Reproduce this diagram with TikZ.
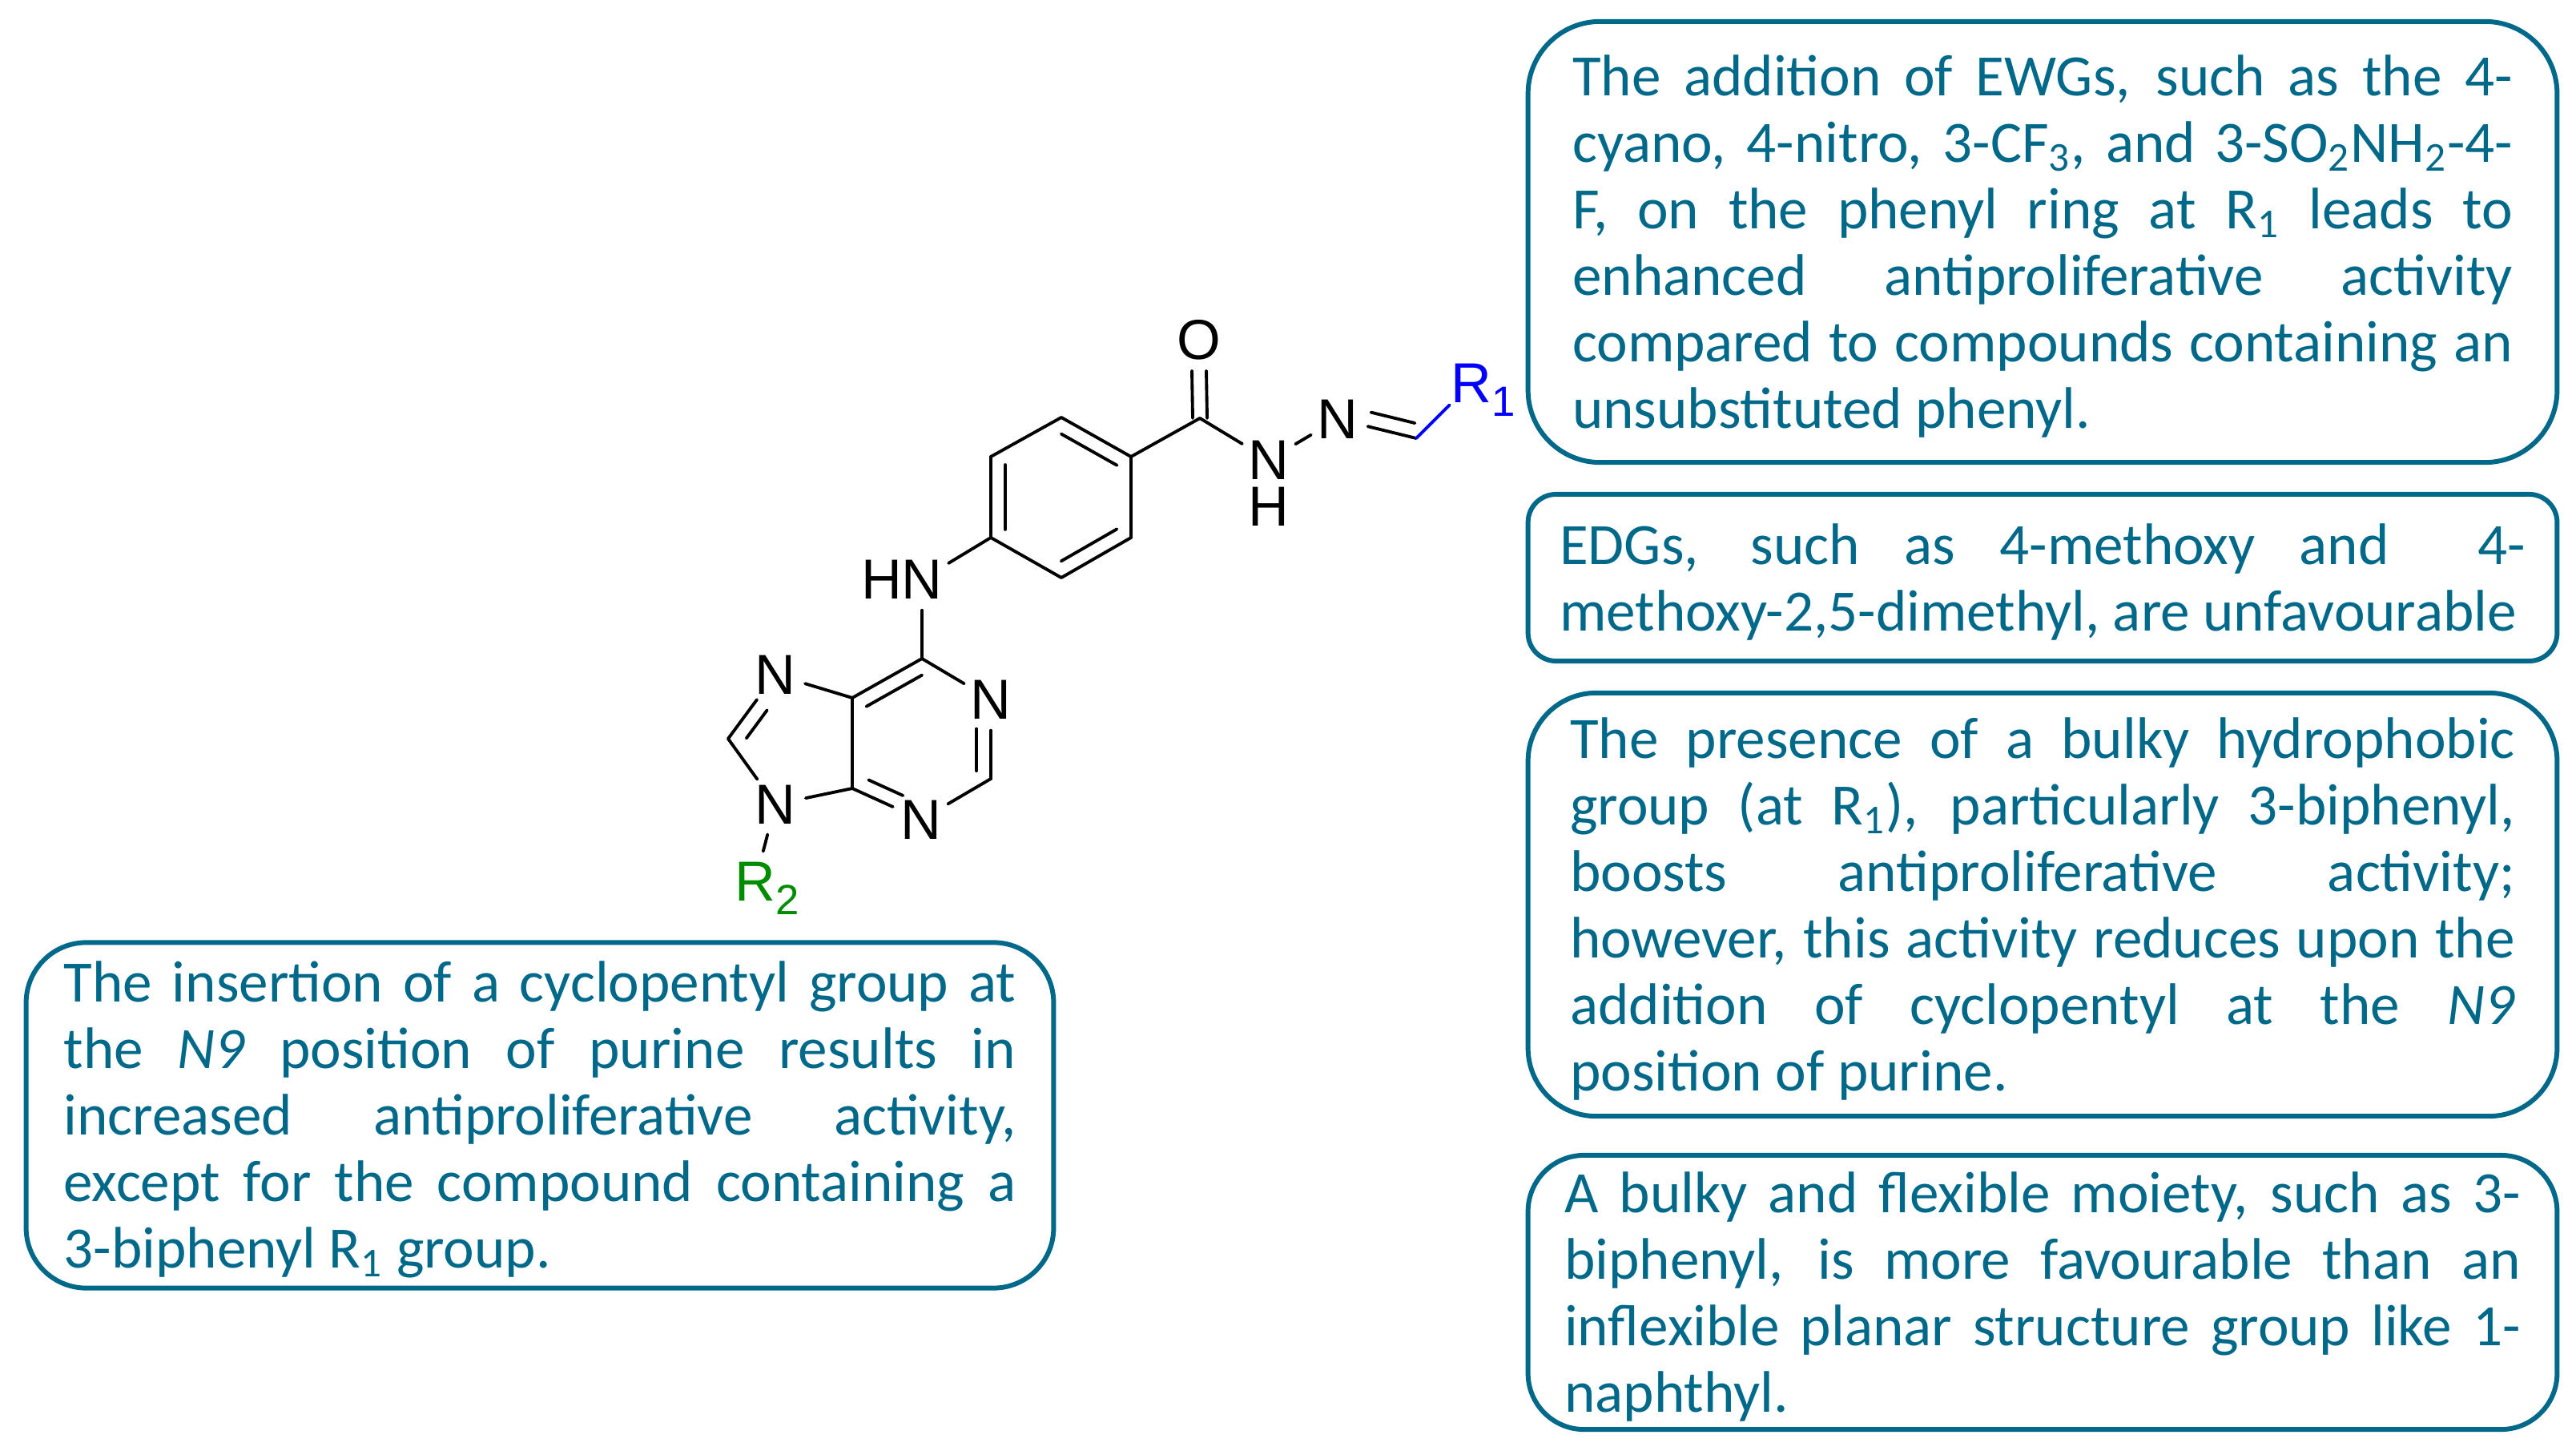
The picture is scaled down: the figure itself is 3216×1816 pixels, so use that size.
\documentclass[tikz,border=0pt]{standalone}
\usepackage{fontspec}
\setmainfont{Carlito}
\newfontfamily\atomfont{Liberation Sans}
\usetikzlibrary{calc}
\definecolor{noteteal}{HTML}{00698A}
\definecolor{rblue}{HTML}{0000FF}
\definecolor{rgreen}{HTML}{008C00}
\newcommand{\rsub}[1]{\rlap{\smash{\raisebox{-0.17cm}{\fontsize{15}{15}\selectfont #1}}}}
\hyphenpenalty=10000
\exhyphenpenalty=10000
\tolerance=9999
\hbadness=10000
\tikzset{
    atom/.style={circle, inner sep=0pt, minimum size=0.76cm, font=\atomfont\fontsize{20}{22}\selectfont},
    hatom/.style={inner sep=0pt, font=\atomfont\fontsize{20}{22}\selectfont},
    bond/.style={line width=1.1pt, line cap=round},
    notebox/.style={draw=noteteal, line width=1.7pt, text=noteteal, inner sep=0pt, align=justify,
        font=\fontsize{20.8}{23.6}\selectfont, execute at begin node=\rule{0pt}{17.4pt}}
}
\begin{document}
\begin{tikzpicture}[x=0.01cm, y=-0.01cm]
    \useasboundingbox (0,0) rectangle (3216,1816);

    % Phenyl ring and hydrazone arm
    \coordinate (ra) at (1325,521);
    \coordinate (rb) at (1412,570);
    \coordinate (rc) at (1412,671);
    \coordinate (rd) at (1325,721);
    \coordinate (re) at (1237,671);
    \coordinate (rf) at (1237,570);
    \coordinate (cco) at (1498,522);
    \coordinate (cim) at (1768,547);
    \node[atom] (oxy) at (1497,424) {O};
    \node[atom] (nha) at (1584,574) {N};
    \node[hatom] (hha) at (1584,632) {H};
    \node[atom] (nim) at (1670,523) {N};
    \node[atom, text=rblue] (rone) at (1837,478) {R\rsub{1}};

    % Purine
    \node[atom] (nhb) at (1151,723) {N};
    \node[hatom] (hhb) at (1101,723) {H};
    \coordinate (csix) at (1151,822);
    \coordinate (cfive) at (1064,871);
    \coordinate (cfour) at (1064,984);
    \coordinate (ctwo) at (1237,972);
    \coordinate (ceight) at (909,922);
    \node[atom] (none) at (1237,873) {N};
    \node[atom] (nthree) at (1150,1023) {N};
    \node[atom] (nseven) at (968,842) {N};
    \node[atom] (nnine) at (968,1004) {N};
    \node[atom, text=rgreen] (rtwo) at (943,1100) {R\rsub{2}};

    % Single bonds and outer lines
    \foreach \a/\b in {ra/rb, rb/rc, rc/rd, rd/re, re/rf, rf/ra, rb/cco, cco/nha, nha/nim, nim/cim,
        re/nhb, nhb/csix, csix/cfive, csix/none, none/ctwo, ctwo/nthree, nthree/cfour, cfour/cfive,
        cfive/nseven, nseven/ceight, ceight/nnine, nnine/cfour, nnine/rtwo} {
        \draw[bond] (\a) -- (\b);
    }
    \draw[bond, rblue] (cim) -- (rone);
    \foreach \s in {-9,9} {
        \draw[bond] ($(cco)+(\s,0)$) -- ($(oxy.south)+(\s,0)$);
    }

    % Inner lines of the double bonds
    \foreach \a/\b/\m/\n/\r in {ra/rb/.1/.9/-90, rd/rc/.1/.9/90, rf/re/.1/.9/90, csix/cfive/.1/.9/90,
        none/ctwo/.37/.9/-90, cfour/nthree/.15/.65/90, ceight/nseven/.14/.58/-90, nim/cim/.38/.94/90} {
        \draw[bond] ($(\a)!\m!(\b)!0.18cm!\r:(\b)$) -- ($(\a)!\n!(\b)!0.18cm!\r:(\b)$);
    }

    % Notes
    \node[notebox, minimum width=12.84cm, minimum height=5.5cm, text width=11.73cm, rounded corners=0.9cm] (ewgnote) at (2550,302)
        {The addition of EWGs, such as the 4-\linebreak
        cyano, 4-nitro, 3-CF\textsubscript{3}, and 3-SO\textsubscript{2}NH\textsubscript{2}-4-\linebreak
        F, on the phenyl ring at R\textsubscript{1} leads to\linebreak
        enhanced antiproliferative activity\linebreak
        compared to compounds containing an\linebreak
        unsubstituted phenyl.};
    \node[notebox, minimum width=12.84cm, minimum height=2.08cm, text width=12.05cm, rounded corners=0.35cm] (edgnote) at (2550,721)
        {EDGs, such as 4-methoxy and \ 4-\linebreak
        methoxy-2,5-dimethyl, are unfavourable};
    \node[notebox, minimum width=12.84cm, minimum height=5.28cm, text width=11.79cm, rounded corners=0.85cm] (bulknote) at (2550,1129)
        {The presence of a bulky hydrophobic\linebreak
        group (at R\textsubscript{1}), particularly 3-biphenyl,\linebreak
        boosts antiproliferative activity;\linebreak
        however, this activity reduces upon the\linebreak
        addition of cyclopentyl at the \textit{N9}\linebreak
        position of purine.};
    \node[notebox, minimum width=12.84cm, minimum height=3.42cm, text width=11.93cm, rounded corners=0.7cm] (flexnote) at (2550,1613)
        {A bulky and flexible moiety, such as 3-\linebreak
        biphenyl, is more favourable than an\linebreak
        inflexible planar structure group like 1-\linebreak
        naphthyl.};
    \node[notebox, minimum width=12.82cm, minimum height=4.31cm, text width=11.88cm, rounded corners=0.75cm] (cyclonote) at (674,1392)
        {The insertion of a cyclopentyl group at\linebreak
        the \textit{N9} position of purine results in\linebreak
        increased antiproliferative activity,\linebreak
        except for the compound containing a\linebreak
        3-biphenyl R\textsubscript{1} group.};
\end{tikzpicture}
\end{document}
